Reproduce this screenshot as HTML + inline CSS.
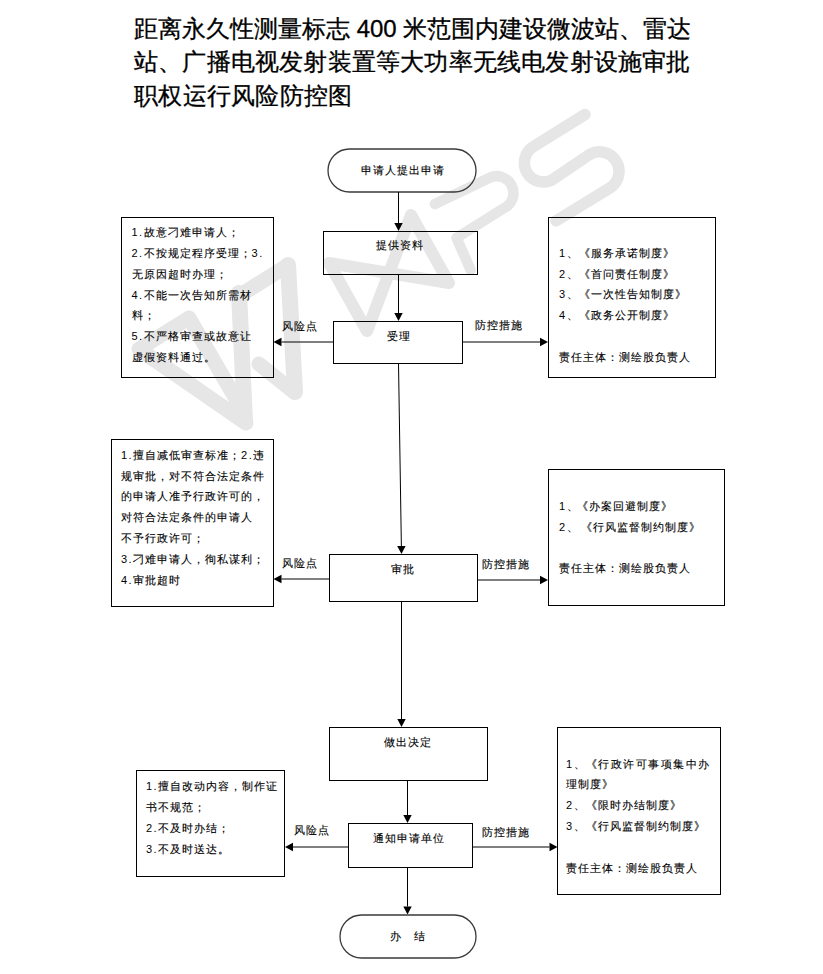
<!DOCTYPE html>
<html><head><meta charset="utf-8"><style>
html,body{margin:0;padding:0;background:#fff;width:823px;height:974px;overflow:hidden}
body{position:relative;font-family:"Liberation Sans", sans-serif;color:#000}
.t{position:absolute;font-size:11px;letter-spacing:1px;white-space:pre;-webkit-text-stroke:0.12px #000}
.d{letter-spacing:1.45px;-webkit-text-stroke:0}
.title{position:absolute;left:134px;top:11.6px;-webkit-text-stroke:0.3px #000;font-size:24px;line-height:33.6px;white-space:pre;color:#000}
svg{position:absolute;left:0;top:0}
</style></head><body>
<svg width="823" height="974" viewBox="0 0 823 974">
<g fill="none" stroke="#e6e6e6" stroke-linecap="round" stroke-linejoin="round">
<path stroke-width="15" d="M236,399 L189,318 L139,349 L246,423"/>
<path stroke-width="16" d="M245,421 L239,293"/>
<path stroke-width="15" d="M239,296 L288,265"/>
<path stroke-width="16" d="M288,265 L295,392"/>
<path stroke-width="15" d="M259,364 L294,392"/>
<path stroke-width="12" d="M329,263 L367,331 L411,215 L449,283 Z"/>
<path stroke-width="10.5" d="M434.9,204 L489.2,177.9 A16.8,16.8 0 0 1 504,208.1 L456.5,237.9 L470.6,269.9"/>
<path stroke-width="11.5" d="M585,114.5 L533.4,146.7 A19,19 0 0 0 553.4,179.1 L589.2,154.8 A19.5,19.5 0 0 1 609.8,188 L556,220.8"/>
</g>

<rect x="328" y="149" width="148" height="43" rx="21.5" ry="21.5" fill="none" stroke="#3a3a3a" stroke-width="1.3"/><line x1="398.5" y1="192" x2="398.50" y2="223.00" stroke="#000" stroke-width="1"/><polygon points="398.5,231 394.30,223.00 402.70,223.00" fill="#000"/><rect x="323.5" y="231.5" width="154.0" height="43.0" fill="none" stroke="#000" stroke-width="1"/><line x1="398.5" y1="274.5" x2="398.50" y2="313.00" stroke="#000" stroke-width="1"/><polygon points="398.5,321 394.30,313.00 402.70,313.00" fill="#000"/><rect x="333.5" y="321.5" width="129.0" height="42.0" fill="none" stroke="#000" stroke-width="1"/><line x1="333" y1="342" x2="281.50" y2="342.00" stroke="#000" stroke-width="1"/><polygon points="273.5,342 281.50,337.80 281.50,346.20" fill="#000"/><line x1="462.5" y1="342" x2="540.00" y2="342.00" stroke="#000" stroke-width="1"/><polygon points="548,342 540.00,346.20 540.00,337.80" fill="#000"/><rect x="121.5" y="217.5" width="152.0" height="160.0" fill="none" stroke="#000" stroke-width="1"/><rect x="548.5" y="217.5" width="167.0" height="160.0" fill="none" stroke="#000" stroke-width="1"/><line x1="398.5" y1="363.5" x2="401.37" y2="546.00" stroke="#000" stroke-width="1"/><polygon points="401.5,554 397.17,546.07 405.57,545.93" fill="#000"/><rect x="329.5" y="554.5" width="148.0" height="47.0" fill="none" stroke="#000" stroke-width="1"/><line x1="329" y1="579" x2="281.50" y2="579.00" stroke="#000" stroke-width="1"/><polygon points="273.5,579 281.50,574.80 281.50,583.20" fill="#000"/><line x1="477.5" y1="580" x2="540.00" y2="580.00" stroke="#000" stroke-width="1"/><polygon points="548,580 540.00,584.20 540.00,575.80" fill="#000"/><rect x="111.5" y="439.5" width="162.0" height="167.0" fill="none" stroke="#000" stroke-width="1"/><rect x="548.5" y="469.5" width="176.0" height="136.0" fill="none" stroke="#000" stroke-width="1"/><line x1="401.5" y1="601.5" x2="401.50" y2="719.00" stroke="#000" stroke-width="1"/><polygon points="401.5,727 397.30,719.00 405.70,719.00" fill="#000"/><rect x="329.5" y="727.5" width="158.0" height="53.0" fill="none" stroke="#000" stroke-width="1"/><line x1="407.5" y1="780.5" x2="407.50" y2="815.00" stroke="#000" stroke-width="1"/><polygon points="407.5,823 403.30,815.00 411.70,815.00" fill="#000"/><rect x="348.5" y="823.5" width="124.0" height="44.0" fill="none" stroke="#000" stroke-width="1"/><line x1="348" y1="847" x2="293.00" y2="847.00" stroke="#000" stroke-width="1"/><polygon points="285,847 293.00,842.80 293.00,851.20" fill="#000"/><line x1="472.5" y1="847" x2="549.50" y2="847.00" stroke="#000" stroke-width="1"/><polygon points="557.5,847 549.50,851.20 549.50,842.80" fill="#000"/><rect x="136.5" y="770.5" width="148.0" height="106.0" fill="none" stroke="#000" stroke-width="1"/><rect x="557.5" y="727.5" width="163.0" height="167.0" fill="none" stroke="#000" stroke-width="1"/><line x1="407.5" y1="867.5" x2="407.50" y2="906.50" stroke="#000" stroke-width="1"/><polygon points="407.5,914.5 403.30,906.50 411.70,906.50" fill="#000"/><rect x="340" y="915" width="136" height="43" rx="21.5" ry="21.5" fill="none" stroke="#3a3a3a" stroke-width="1.3"/>
</svg>
<div class="title">距离永久性测量标志 400 米范围内建设微波站、雷达<br><span style="letter-spacing:0.2px">站、广播电视发射装置等大功率无线电发射设施审批</span><br><span style="letter-spacing:0.3px">职权运行风险防控图</span></div>
<div class="t" style="left:361px;top:160.3px;line-height:20.8px">申请人提出申请</div><div class="t" style="left:376px;top:235.3px;line-height:20.8px">提供资料</div><div class="t" style="left:386.5px;top:325.8px;line-height:20.8px">受理</div><div class="t" style="left:282px;top:316.0px;line-height:20.8px">风险点</div><div class="t" style="left:475px;top:315.3px;line-height:20.8px">防控措施</div><div class="t" style="left:131.5px;top:222.3px;line-height:20.8px"><span class="d">1.</span>故意刁难申请人；<br><span class="d">2.</span>不按规定程序受理；<span class="d">3.</span><br>无原因超时办理；<br><span class="d">4.</span>不能一次告知所需材<br>料；<br><span class="d">5.</span>不严格审查或故意让<br>虚假资料通过。</div><div class="t" style="left:559px;top:242.8px;line-height:20.8px"><span class="d">1</span>、《服务承诺制度》<br><span class="d">2</span>、《首问责任制度》<br><span class="d">3</span>、《一次性告知制度》<br><span class="d">4</span>、《政务公开制度》<br><br>责任主体：测绘股负责人</div><div class="t" style="left:391px;top:559.3px;line-height:20.8px">审批</div><div class="t" style="left:282px;top:553.3px;line-height:20.8px">风险点</div><div class="t" style="left:482px;top:553.8px;line-height:20.8px">防控措施</div><div class="t" style="left:121px;top:444.8px;line-height:20.8px"><span class="d">1.</span>擅自减低审查标准；<span class="d">2.</span>违<br>规审批，对不符合法定条件<br>的申请人准予行政许可的，<br>对符合法定条件的申请人<br>不予行政许可；<br><span class="d">3.</span>刁难申请人，徇私谋利；<br><span class="d">4.</span>审批超时</div><div class="t" style="left:559px;top:495.8px;line-height:20.8px"><span class="d">1</span><span style="letter-spacing:-0.85px">、</span>《办案回避制度》<br><span class="d">2</span><span style="letter-spacing:3.7px">、</span>《行风监督制约制度》<br><br>责任主体：测绘股负责人</div><div class="t" style="left:383.5px;top:732.3px;line-height:20.8px">做出决定</div><div class="t" style="left:373px;top:828.3px;line-height:20.8px">通知申请单位</div><div class="t" style="left:293.5px;top:820.3px;line-height:20.8px">风险点</div><div class="t" style="left:481.5px;top:821.8px;line-height:20.8px">防控措施</div><div class="t" style="left:146px;top:776.3px;line-height:20.8px"><span class="d">1.</span>擅自改动内容，制作证<br>书不规范；<br><span class="d">2.</span>不及时办结；<br><span class="d">3.</span>不及时送达。</div><div class="t" style="left:566px;top:753.7px;line-height:20.8px"><span class="d">1</span>、<span style="letter-spacing:1.5px">《行政许可事项集中办</span><br>理制度》<br><span class="d">2</span>、《限时办结制度》<br><span class="d">3</span>、《行风监督制约制度》<br><br>责任主体：测绘股负责人</div><div class="t" style="left:390px;top:925.6px;line-height:20.8px">办　结</div>
</body></html>
